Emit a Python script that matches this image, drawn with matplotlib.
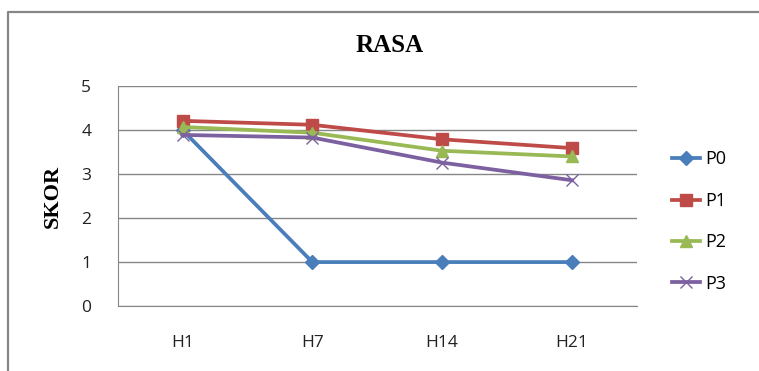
import matplotlib.pyplot as plt
from matplotlib.lines import Line2D

title = 'RASA'
label_y = 'SKOR'
days = ['H1', 'H7', 'H14', 'H21']

p0 = [4.0, 1.0, 1.0, 1.0]
p1 = [4.21, 4.12, 3.79, 3.59]
p2 = [4.07, 3.94, 3.53, 3.40]
p3 = [3.89, 3.83, 3.26, 2.86]

series = [('P0', p0, '#4A7EBB', 'D', 7.5),
          ('P1', p1, '#BE4B48', 's', 9),
          ('P2', p2, '#98B954', '^', 9),
          ('P3', p3, '#7D60A0', 'x', 9)]

fig = plt.figure(figsize=(7.59, 3.71), dpi=100)
ax = fig.add_axes([0.155, 0.175, 0.684, 0.593])

# outer chart border (only left and top visible)
bx = 7.5 / 759
by = 1 - 11.5 / 371
fig.lines.append(Line2D([bx, bx, 1.0], [0.0, by, by], transform=fig.transFigure,
                        color='#868686', linewidth=1.6))

x = list(range(len(days)))
for name, vals, col, mk, ms in series:
    ax.plot(x, vals, color=col, linewidth=2.7, marker=mk, markersize=ms,
            markeredgecolor=col, markerfacecolor=col,
            markeredgewidth=1.0, label=name)

ax.set_xlim(-0.5, 3.5)
ax.set_ylim(0, 5)
ax.set_yticks(range(6))
ax.set_xticks(x)
ax.set_xticklabels(days)
ax.yaxis.grid(True, color='#868686', linewidth=1.0)
ax.set_axisbelow(True)
for s in ['top', 'right']:
    ax.spines[s].set_visible(False)
for s in ['left', 'bottom']:
    ax.spines[s].set_color('#868686')
ax.tick_params(axis='both', length=0, labelsize=12.5, colors='#222222',
               labelfontfamily='Open Sans')
ax.tick_params(axis='x', pad=21)
ax.tick_params(axis='y', pad=19)

ax.set_ylabel(label_y, fontsize=16, fontweight='bold', family='Liberation Serif', labelpad=13)
fig.text(0.513, 0.878, title, ha='center', va='center', fontsize=18,
         fontweight='bold', family='Liberation Serif')

leg = ax.legend(loc='center left', bbox_to_anchor=(1.067, 0.384), frameon=False,
                borderaxespad=0, borderpad=0, labelspacing=1.3,
                handlelength=1.55, handletextpad=0.3,
                prop={'family': 'Open Sans', 'size': 13})

fig.savefig('out.png', dpi=100)
